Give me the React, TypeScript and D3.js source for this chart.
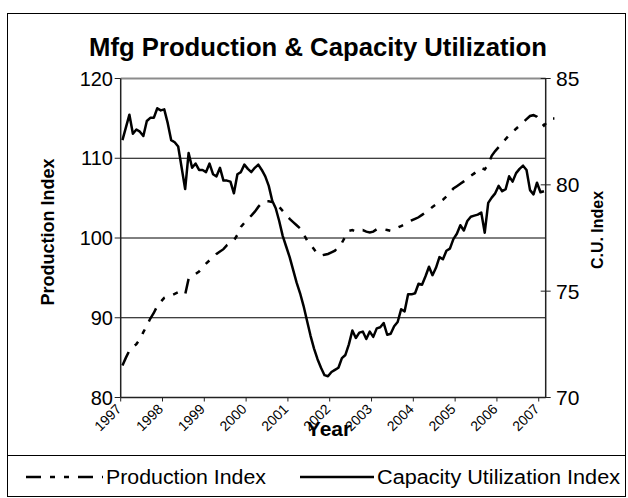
import * as React from 'react';
import * as d3 from 'd3';

// monthly, Jan 1997 .. Feb 2007
const years = ['1997', '1998', '1999', '2000', '2001', '2002', '2003', '2004', '2005', '2006', '2007'];

const productionIndex = [
  84.0, 85.0, 85.9, 86.3, 86.7, 87.3, 88.2, 89.0, 89.9, 90.6, 91.5, 92.0,
  92.5, 92.7, 92.8, 93.0, 93.2, 93.1, 92.9, 94.9, 95.2, 95.5, 95.8, 96.3,
  96.8, 97.2, 97.5, 98.0, 98.3, 98.6, 99.1, 99.4, 99.7, 100.4, 101.4, 101.9,
  102.4, 102.8, 103.3, 103.9, 104.4, 104.6, 104.6, 104.5, 104.2, 103.9, 103.4, 102.9,
  102.4, 102.0, 101.6, 101.2, 100.5, 99.7, 99.2, 98.6, 98.0, 97.8, 97.9, 98.0,
  98.2, 98.4, 98.9, 99.4, 100.2, 100.9, 101.0, 100.8, 100.9, 101.0, 100.8, 100.7,
  100.8, 101.1, 101.1, 101.1, 101.0, 100.9, 101.1, 101.3, 101.5, 101.7, 101.9, 102.2,
  102.4, 102.6, 102.9, 103.2, 103.5, 103.9, 104.2, 104.5, 104.8, 105.2, 105.7, 106.2,
  106.5, 106.8, 107.1, 107.4, 107.8, 108.1, 108.5, 108.8, 108.6, 109.2, 110.3, 110.9,
  111.4, 112.0, 112.4, 112.9, 113.3, 113.7, 114.1, 114.5, 114.9, 115.3, 115.4, 115.2,
  114.6, 114.1, 114.6, 115.0, 115.0
];

const capacityUtil = [
  82.1, 82.7, 83.3, 82.4, 82.6, 82.5, 82.3, 83.0, 83.15, 83.15, 83.6, 83.5,
  83.55, 82.9, 82.1, 82.0, 81.8, 80.8, 79.8, 81.5, 80.8, 81.0, 80.7, 80.7,
  80.6, 81.0, 80.5, 80.4, 80.8, 80.2, 80.2, 80.15, 79.6, 80.5, 80.6, 80.95,
  80.75, 80.6, 80.8, 80.95, 80.7, 80.4, 79.95, 79.25, 78.9, 78.3, 77.6, 77.1,
  76.6, 76.0, 75.4, 74.9, 74.3, 73.6, 72.9, 72.3, 71.8, 71.4, 71.05, 71.0,
  71.2, 71.3, 71.4, 71.85, 72.0, 72.5, 73.15, 72.8, 73.05, 73.1, 72.75, 73.1,
  72.85, 73.25, 73.3, 73.5, 72.95, 73.0, 73.35, 73.55, 74.15, 74.05, 74.85, 74.85,
  74.9, 75.35, 75.3, 75.7, 76.15, 75.75, 76.1, 76.6, 76.5, 76.9, 77.0, 77.45,
  77.7, 78.1, 77.85, 78.3, 78.5, 78.55, 78.6, 78.7, 77.75, 79.15, 79.4, 79.6,
  79.95, 79.7, 79.8, 80.4, 80.15, 80.55, 80.75, 80.9, 80.7, 79.75, 79.55, 80.1,
  79.65, 79.7
];

const leftTicks = [80, 90, 100, 110, 120];
const rightTicks = [70, 75, 80, 85];

const W = 628, H = 498;
const plot = { left: 120.7, right: 545.7, top: 78.5, bottom: 397.5 };
const font = '"Liberation Sans", Arial, sans-serif';
const dashDotDot = '15,9,5,9,5,9';

export default function App() {
  const n = capacityUtil.length;
  const x = d3.scaleLinear().domain([0, n]).range([plot.left, plot.right]);
  const yL = d3.scaleLinear().domain([80, 120]).range([plot.bottom, plot.top]);
  const yR = d3.scaleLinear().domain([70, 85]).range([plot.bottom, plot.top]);

  const prodLine = d3.line<number>().x((d, i) => x(i + 0.5)).y(d => yL(d));
  const cuLine = d3.line<number>().x((d, i) => x(i + 0.5)).y(d => yR(d));
  const midY = (plot.top + plot.bottom) / 2;

  return (
    <svg width={W} height={H} style={{ position: 'absolute', left: 0, top: 0 }} fontFamily={font}>
      <rect x={7.5} y={13.5} width={618} height={483} fill="white" stroke="black" strokeWidth={1} />
      <text x={318} y={56} textAnchor="middle" fontSize={26} fontWeight="bold" textLength={458} lengthAdjust="spacingAndGlyphs">Mfg Production &amp; Capacity Utilization</text>

      {/* gridlines */}
      {leftTicks.filter(t => t > 80 && t < 120).map(t => (
        <line key={t} x1={plot.left} x2={plot.right} y1={yL(t)} y2={yL(t)} stroke="black" strokeWidth={1} />
      ))}
      <line x1={plot.left} x2={plot.right} y1={yL(120)} y2={yL(120)} stroke="#8c8c8c" strokeWidth={2} />

      {/* left axis */}
      <line x1={plot.left} x2={plot.left} y1={plot.top} y2={plot.bottom} stroke="#222" strokeWidth={1.5} />
      {leftTicks.map(t => (
        <g key={t}>
          <line x1={plot.left - 6} x2={plot.left} y1={yL(t)} y2={yL(t)} stroke="#222" />
          <text x={113} y={yL(t)} dy="0.36em" textAnchor="end" fontSize={20}>{t}</text>
        </g>
      ))}

      {/* right axis */}
      <line x1={plot.right} x2={plot.right} y1={plot.top} y2={plot.bottom} stroke="#222" strokeWidth={1.5} />
      {rightTicks.map(t => (
        <g key={t}>
          <line x1={plot.right - 5} x2={plot.right + 5} y1={yR(t)} y2={yR(t)} stroke="#222" />
          <text x={556} y={yR(t)} dy="0.36em" textAnchor="start" fontSize={21}>{t}</text>
        </g>
      ))}

      {/* x axis */}
      <line x1={plot.left} x2={plot.right} y1={plot.bottom} y2={plot.bottom} stroke="#222" strokeWidth={1.5} />
      {years.map((yr, k) => (
        <g key={yr}>
          <line x1={x(12 * k)} x2={x(12 * k)} y1={plot.bottom} y2={plot.bottom + 4} stroke="#222" />
          <text transform={`translate(${x(12 * k) - 2},${plot.bottom + 9}) rotate(-45)`} textAnchor="end" dy="0.35em" fontSize={14}>{yr}</text>
        </g>
      ))}

      {/* series */}
      <path d={prodLine(productionIndex) || ''} fill="none" stroke="black" strokeWidth={2.5} strokeDasharray={dashDotDot} />
      <path d={cuLine(capacityUtil) || ''} fill="none" stroke="black" strokeWidth={2.5} strokeLinejoin="round" />

      {/* axis titles */}
      <text transform={`translate(54,${midY - 6}) rotate(-90)`} textAnchor="middle" fontSize={18} fontWeight="bold">Production Index</text>
      <text transform={`translate(603,${midY - 8}) rotate(-90)`} textAnchor="middle" fontSize={16} fontWeight="bold">C.U. Index</text>
      <text x={329} y={436} textAnchor="middle" fontSize={21} fontWeight="bold">Year</text>

      {/* legend */}
      <line x1={7.5} x2={625.5} y1={455.5} y2={455.5} stroke="black" />
      <line x1={26} x2={103} y1={477} y2={477} stroke="black" strokeWidth={2.5} strokeDasharray={dashDotDot} />
      <text x={106} y={477} dy="0.35em" fontSize={20} textLength={160} lengthAdjust="spacingAndGlyphs">Production Index</text>
      <line x1={300} x2={374} y1={477} y2={477} stroke="black" strokeWidth={2.5} />
      <text x={377} y={477} dy="0.35em" fontSize={20} textLength={243} lengthAdjust="spacingAndGlyphs">Capacity Utilization Index</text>
    </svg>
  );
}
